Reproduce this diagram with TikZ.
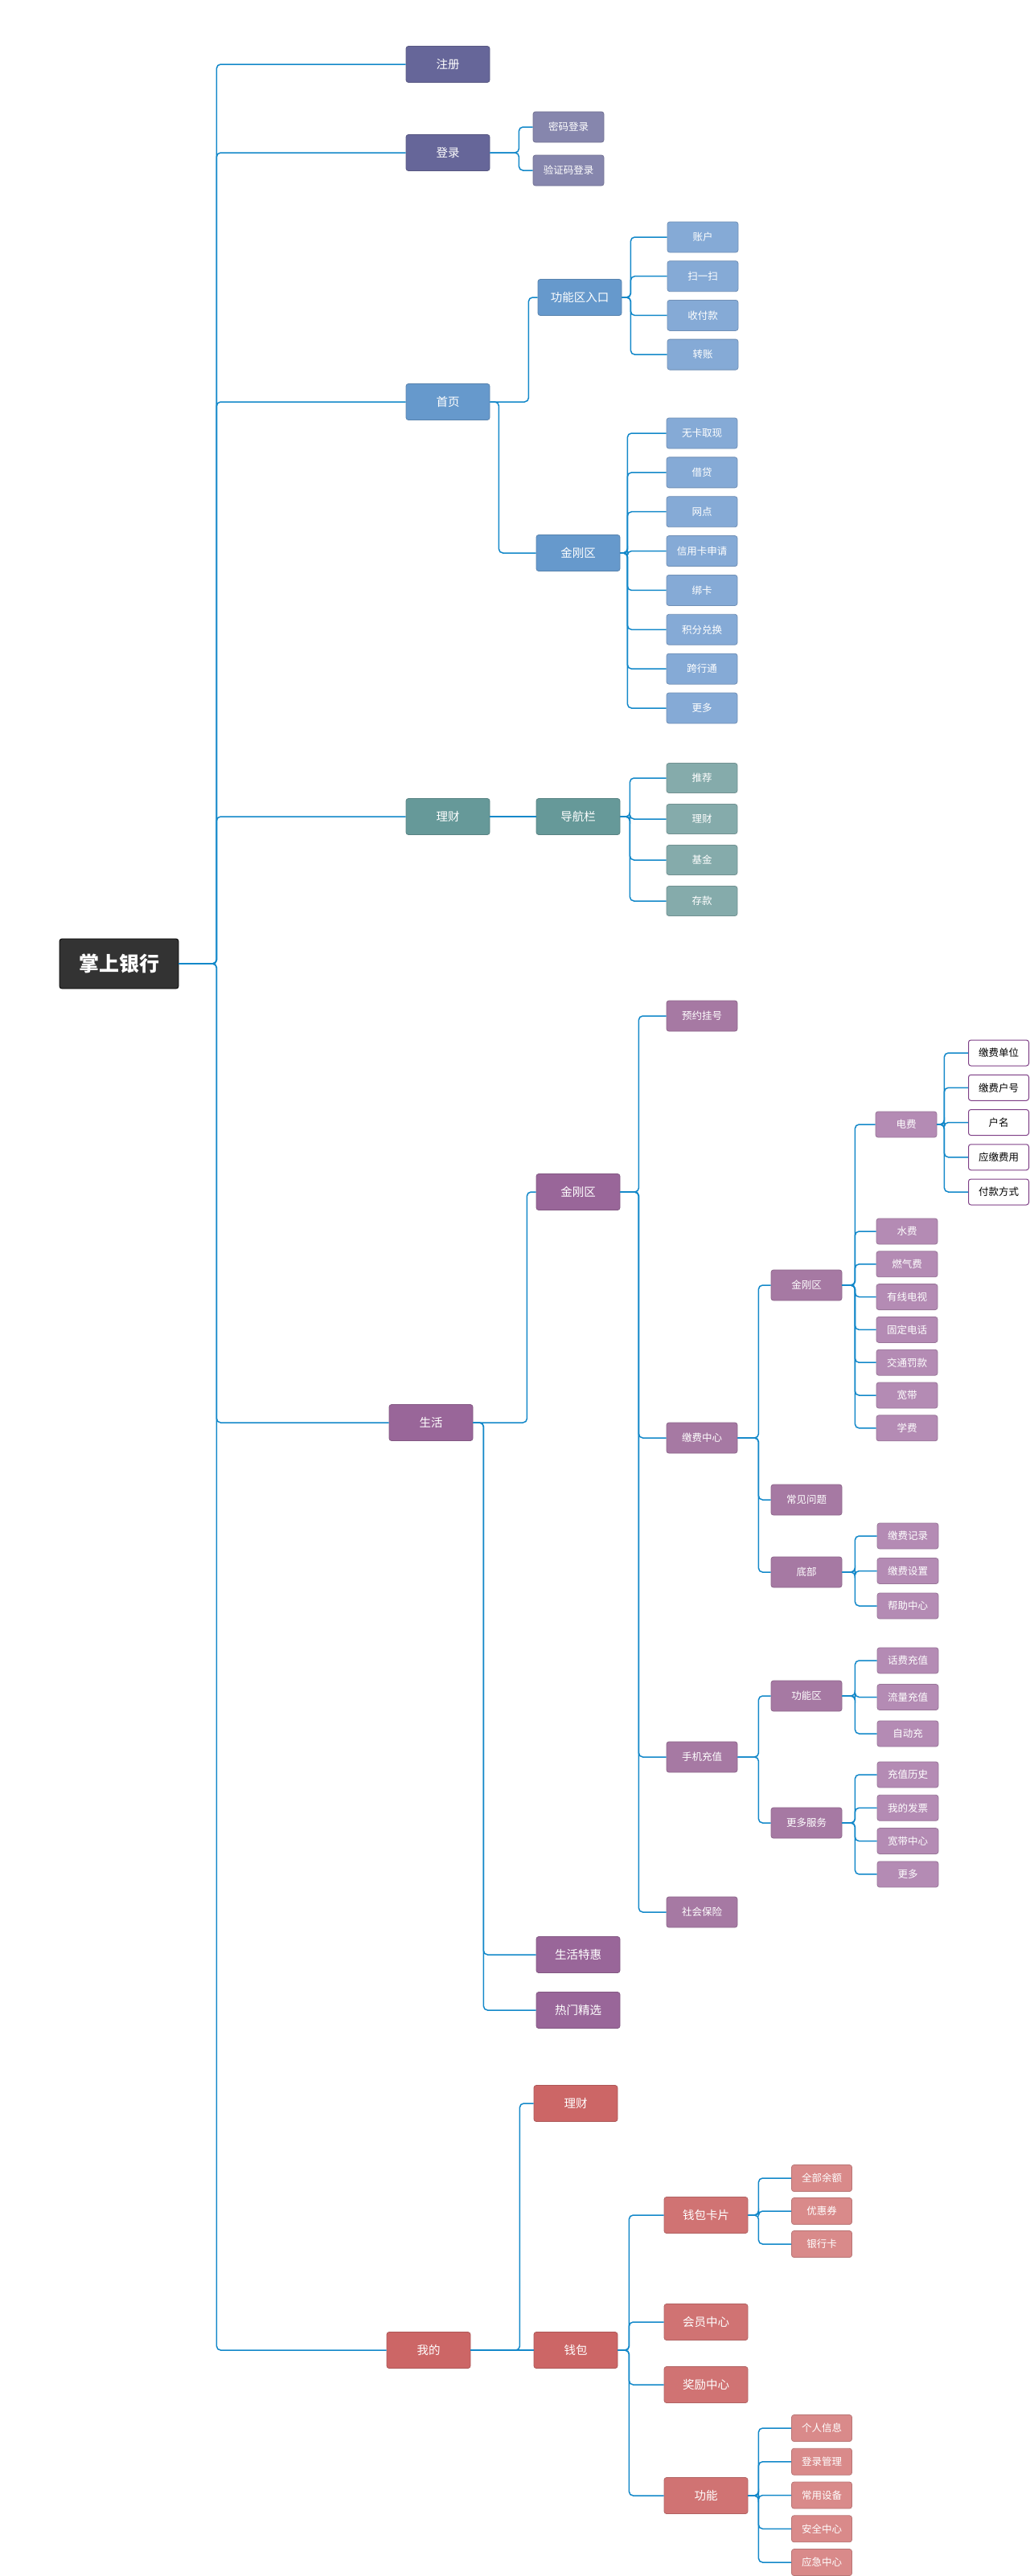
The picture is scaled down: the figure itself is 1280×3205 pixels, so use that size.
\documentclass[tikz,border=0pt]{standalone}
\usepackage{fontspec}
\setmainfont{Noto Sans CJK SC}
\usepackage{tikz}
\definecolor{linkc}{HTML}{1388C9}
\definecolor{rootc}{HTML}{333333}
\definecolor{acct}{HTML}{666699}
\definecolor{acctl}{HTML}{8686AD}
\definecolor{home}{HTML}{6699CC}
\definecolor{homel}{HTML}{85AAD6}
\definecolor{fin}{HTML}{669999}
\definecolor{finl}{HTML}{85ABAB}
\definecolor{life}{HTML}{996699}
\definecolor{lifem}{HTML}{A679A3}
\definecolor{lifel}{HTML}{B48BB4}
\definecolor{lifeb}{HTML}{7E3F86}
\definecolor{mine}{HTML}{CC6666}
\definecolor{minem}{HTML}{D07373}
\definecolor{minel}{HTML}{D98A8A}
\tikzset{%
  mind/.style = {
    x=1pt, y=-1pt,
    every node/.style = {shape=rectangle, rounded corners=3pt,
      align=center, text=white, inner sep=0pt, line width=0.8pt}
  },
  link/.style = {draw=linkc, line width=1.5pt, rounded corners=5pt},
  elbow/.style = {to path={-- ++(#1,0) |- (\tikztotarget)}},
  root/.style = {fill=rootc, draw=black, minimum width=148pt,
    minimum height=62pt, font=\fontsize{25}{28}\selectfont\bfseries},
  topic/.style = {fill=#1, draw=#1!85!black, minimum width=104pt,
    minimum height=45pt, font=\fontsize{14.5}{16}\selectfont},
  sub/.style = {fill=#1, draw=#1!85!black, minimum width=88pt,
    minimum height=38pt, font=\fontsize{12.5}{14}\selectfont},
  leaf/.style = {fill=#1, draw=#1!85!black, minimum width=76pt,
    minimum height=32pt, font=\fontsize{12.5}{14}\selectfont},
  field/.style = {fill=white, draw=lifeb, text=black, line width=1pt,
    minimum width=75pt, minimum height=32pt,
    font=\fontsize{12.5}{14}\selectfont}
}
\begin{document}
\begin{tikzpicture}[mind]
\useasboundingbox (0,0) rectangle (1280,3205);
\node[root] (bank) at (148,1199) {掌上银行};
% first level
\node[topic=acct] (reg) at (557,80) {注册};
\node[topic=acct] (login) at (557,190) {登录};
\node[topic=home] (home) at (557,500) {首页};
\node[topic=fin] (fin) at (557,1016) {理财};
\node[topic=life] (life) at (536,1770) {生活};
\node[topic=mine] (mine) at (533,2924) {我的};
\foreach \n in {reg,login,home,fin,life,mine}
  \draw[link] (bank.east) to[elbow=47] (\n.west);

% login
\node[sub=acctl] (pwd) at (707,158) {密码登录};
\node[sub=acctl] (sms) at (707,212) {验证码登录};
\foreach \n in {pwd,sms}
  \draw[link] (login.east) to[elbow=36] (\n.west);

% home page
\node[topic=home] (entry) at (721,370) {功能区入口};
\node[topic=home] (hkk) at (719,688) {金刚区};
\draw[link] (home.east) to[elbow=48] (entry.west);
\draw[link] (home.east) to[elbow=11] (hkk.west);
\foreach \t [count=\i] in {账户,扫一扫,收付款,转账}{
  \node[sub=homel] (entry\i) at (874,{295+48.7*(\i-1)}) {\t};
  \draw[link] (entry.east) to[elbow=11] (entry\i.west);
}
\foreach \t [count=\i] in {无卡取现,借贷,网点,信用卡申请,绑卡,积分兑换,跨行通,更多}{
  \node[sub=homel] (hkk\i) at (873,{539+48.86*(\i-1)}) {\t};
  \draw[link] (hkk.east) to[elbow=9] (hkk\i.west);
}

% finance
\node[topic=fin] (nav) at (719,1016) {导航栏};
\draw[link] (fin.east) -- (nav.west);
\foreach \t [count=\i] in {推荐,理财,基金,存款}{
  \node[sub=finl, minimum height=37pt] (nav\i) at (873,{968+51*(\i-1)}) {\t};
  \draw[link] (nav.east) to[elbow=12] (nav\i.west);
}

% life
\node[topic=life] (lkk) at (719,1483) {金刚区};
\node[topic=life] (deal) at (719,2432) {生活特惠};
\node[topic=life] (hot) at (719,2501) {热门精选};
\draw[link] (life.east) to[elbow=67] (lkk.west);
\foreach \n in {deal,hot}
  \draw[link] (life.east) to[elbow=13] (\n.west);
\node[sub=lifem] (book) at (873,1264) {预约挂号};
\node[sub=lifem] (pay) at (873,1789) {缴费中心};
\node[sub=lifem] (topup) at (873,2186) {手机充值};
\node[sub=lifem] (ins) at (873,2379) {社会保险};
\foreach \n in {book,pay,topup,ins}
  \draw[link] (lkk.east) to[elbow=23] (\n.west);

% payment centre
\node[sub=lifem] (pkk) at (1003,1599) {金刚区};
\node[sub=lifem] (faq) at (1003,1866) {常见问题};
\node[sub=lifem] (foot) at (1003,1956) {底部};
\foreach \n in {pkk,faq,foot}
  \draw[link] (pay.east) to[elbow=26] (\n.west);
\node[leaf=lifel] (elec) at (1127,1399) {电费};
\draw[link] (pkk.east) to[elbow=16] (elec.west);
\foreach \t [count=\i] in {水费,燃气费,有线电视,固定电话,交通罚款,宽带,学费}{
  \node[leaf=lifel] (pkk\i) at (1128,{1532+40.8*(\i-1)}) {\t};
  \draw[link] (pkk.east) to[elbow=16] (pkk\i.west);
}
\foreach \t [count=\i] in {缴费单位,缴费户号,户名,应缴费用,付款方式}{
  \node[field] (elec\i) at (1242,{1310+43.25*(\i-1)}) {\t};
  \draw[link] (elec.east) to[elbow=9] (elec\i.west);
}
\foreach \t [count=\i] in {缴费记录,缴费设置,帮助中心}{
  \node[leaf=lifel] (foot\i) at (1129,{1911+43.5*(\i-1)}) {\t};
  \draw[link] (foot.east) to[elbow=16] (foot\i.west);
}

% mobile top-up
\node[sub=lifem] (func) at (1003,2110) {功能区};
\node[sub=lifem] (more) at (1003,2268) {更多服务};
\foreach \n in {func,more}
  \draw[link] (topup.east) to[elbow=26] (\n.west);
\foreach \t [count=\i] in {话费充值,流量充值,自动充}{
  \node[leaf=lifel] (func\i) at (1129,{2066+45.5*(\i-1)}) {\t};
  \draw[link] (func.east) to[elbow=16] (func\i.west);
}
\foreach \t [count=\i] in {充值历史,我的发票,宽带中心,更多}{
  \node[leaf=lifel] (more\i) at (1129,{2208+41.3*(\i-1)}) {\t};
  \draw[link] (more.east) to[elbow=16] (more\i.west);
}

% mine
\node[topic=mine] (mfin) at (716,2617) {理财};
\node[topic=mine] (wallet) at (716,2924) {钱包};
\draw[link] (mine.east) to[elbow=61] (mfin.west);
\draw[link] (mine.east) -- (wallet.west);
\node[topic=minem] (card) at (878,2756) {钱包卡片};
\node[topic=minem] (vip) at (878,2889) {会员中心};
\node[topic=minem] (award) at (878,2967) {奖励中心};
\node[topic=minem] (tool) at (878,3105) {功能};
\foreach \n in {card,vip,award,tool}
  \draw[link] (wallet.east) to[elbow=14] (\n.west);
\foreach \t [count=\i] in {全部余额,优惠券,银行卡}{
  \node[leaf=minel, minimum width=75pt, minimum height=33pt] (card\i) at (1022,{2710+41*(\i-1)}) {\t};
  \draw[link] (card.east) to[elbow=13] (card\i.west);
}
\foreach \t [count=\i] in {个人信息,登录管理,常用设备,安全中心,应急中心}{
  \node[leaf=minel, minimum width=75pt, minimum height=33pt] (tool\i) at (1022,{3021+41.75*(\i-1)}) {\t};
  \draw[link] (tool.east) to[elbow=13] (tool\i.west);
}
\end{tikzpicture}
\end{document}
